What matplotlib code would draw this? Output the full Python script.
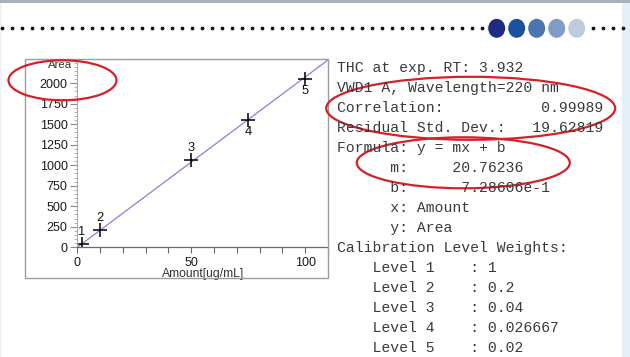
import numpy as np
import matplotlib
matplotlib.use("Agg")
import matplotlib.pyplot as plt
from matplotlib.patches import Ellipse, Rectangle
from matplotlib.lines import Line2D
from matplotlib.ticker import MultipleLocator

# ------------------------------------------------------------------
# calibration data
# ------------------------------------------------------------------
amount = [2, 10, 50, 75, 100]            # ug/mL
area = [40, 211, 1065, 1552, 2052]       # peak area
level_names = ["1", "2", "3", "4", "5"]
label_above = [True, True, True, False, False]

slope = 20.76236
intercept = 7.28606e-1
correlation = 0.99989
resid_std = 19.62819
weights = ["1", "0.2", "0.04", "0.026667", "0.02"]

x_max = 110
y_max = 2290

# report text shown next to the curve
report = [
    "THC at exp. RT: 3.932",
    "VWD1 A, Wavelength=220 nm",
    f"Correlation:           {correlation:.5f}",
    f"Residual Std. Dev.:   {resid_std:.5f}",
    "Formula: y = mx + b",
    f"      m:     {slope:.5f}",
    f"      b:      {intercept:.5e}".replace("e-01", "e-1"),
    "      x: Amount",
    "      y: Area",
    "Calibration Level Weights:",
]
report += [f"    Level {n}    : {w}" for n, w in zip(level_names, weights)]

W, H = 630, 357


def fx(px):
    return px / W


def fy(py):
    # pixel rows counted from the top
    return 1 - py / H


fig = plt.figure(figsize=(W / 100, H / 100), dpi=100)
fig.patch.set_facecolor("white")

# slide decoration: top bar, side strips, dotted rule with blue discs
fig.add_artist(Rectangle((0, fy(3)), 1, 3 / H, transform=fig.transFigure,
                         facecolor="#a7b0bc", edgecolor="none"))
fig.add_artist(Rectangle((fx(622), 0), 8 / W, fy(3), transform=fig.transFigure,
                         facecolor="#e6eef8", edgecolor="none"))
fig.add_artist(Rectangle((0, 0), 2 / W, fy(3), transform=fig.transFigure,
                         facecolor="#eef3fa", edgecolor="none"))

dots_x = np.r_[np.arange(1.7, 482, 10), np.arange(593, 625, 10)]
fig.add_artist(Line2D(fx(dots_x), np.full(len(dots_x), fy(27.7)),
                      transform=fig.transFigure, linestyle="none",
                      marker="o", markersize=1.7, color="#111111"))
disc_colors = ["#1f2a82", "#1d519e", "#4a74b1", "#7f9cc5", "#bfcadb"]
for i, c in enumerate(disc_colors):
    fig.add_artist(Ellipse((fx(496.7 + 20 * i), fy(28.3)), 17 / W, 19 / H,
                           transform=fig.transFigure, facecolor=c,
                           edgecolor="none"))

# frame around the curve
fig.add_artist(Rectangle((fx(25), fy(278)), 303 / W, 219 / H,
                         transform=fig.transFigure, facecolor="none",
                         edgecolor="#9c9c9c", linewidth=1))

# ------------------------------------------------------------------
# calibration curve
# ------------------------------------------------------------------
ax = fig.add_axes([fx(77.3), fy(247.3), (328 - 77.3) / W, (247.3 - 59.5) / H])
ax.set_facecolor("none")
ax.set_xlim(0, x_max)
ax.set_ylim(0, y_max)

xs = np.array([0, x_max])
ax.plot(xs, slope * xs + intercept, color="#8282e0", linewidth=0.9,
        solid_capstyle="butt")
ax.plot(amount, area, linestyle="none", marker="+", markersize=9.5,
        markeredgewidth=1.1, color="black")
for xv, yv, name, up in zip(amount, area, level_names, label_above):
    ax.annotate(name, (xv, yv), textcoords="offset points",
                xytext=(0, 8.6 if up else -8.6), ha="center", va="center",
                fontsize=9.3, family="Liberation Sans", color="#111111")

for side in ("top", "right"):
    ax.spines[side].set_visible(False)
ax.spines["left"].set_color("#a8a8a8")
ax.spines["bottom"].set_color("#6a6a6a")
ax.spines["left"].set_linewidth(0.8)
ax.spines["bottom"].set_linewidth(0.9)

ax.xaxis.set_major_locator(MultipleLocator(50))
ax.xaxis.set_minor_locator(MultipleLocator(10))
ax.yaxis.set_major_locator(MultipleLocator(250))
ax.yaxis.set_minor_locator(MultipleLocator(50))
ax.set_yticks(np.arange(0, 2001, 250))
ax.tick_params(axis="x", which="both", length=4, width=0.8, color="#6a6a6a",
               direction="out", pad=3)
ax.tick_params(axis="y", which="major", length=5, width=0.8, color="#8a8a8a",
               direction="out", pad=2)
ax.tick_params(axis="y", which="minor", length=2.5, width=0.6, color="#a8a8a8",
               direction="out")
ax.tick_params(labelsize=9, labelcolor="#1a1a1a")
for lab in ax.get_xticklabels() + ax.get_yticklabels():
    lab.set_family("Liberation Sans")

ax.text(-0.02, 2225, "Area", transform=ax.get_yaxis_transform(),
        ha="right", va="center", fontsize=8.2, family="Liberation Sans",
        color="#333333")
ax.annotate("Amount[ug/mL]", (55, 0), xycoords="data",
            textcoords="offset points", xytext=(0, -19), ha="center",
            va="center", fontsize=8.7, family="Liberation Sans",
            color="#333333")

# ------------------------------------------------------------------
# report text
# ------------------------------------------------------------------
for i, line in enumerate(report):
    fig.text(fx(337.3), fy(68.3 + 19.95 * i), line, ha="left", va="center",
             fontsize=10.6, family="Liberation Mono", color="#3a3a3a")

# red highlight rings
for cx, cy, w, h in [(62.5, 80.3, 108, 40), (470.7, 108.3, 289, 63),
                     (463.3, 162.8, 213, 51)]:
    fig.add_artist(Ellipse((fx(cx), fy(cy)), w / W, h / H,
                           transform=fig.transFigure, facecolor="none",
                           edgecolor="#d42027", linewidth=1.6))

fig.savefig("out.png", dpi=100)
